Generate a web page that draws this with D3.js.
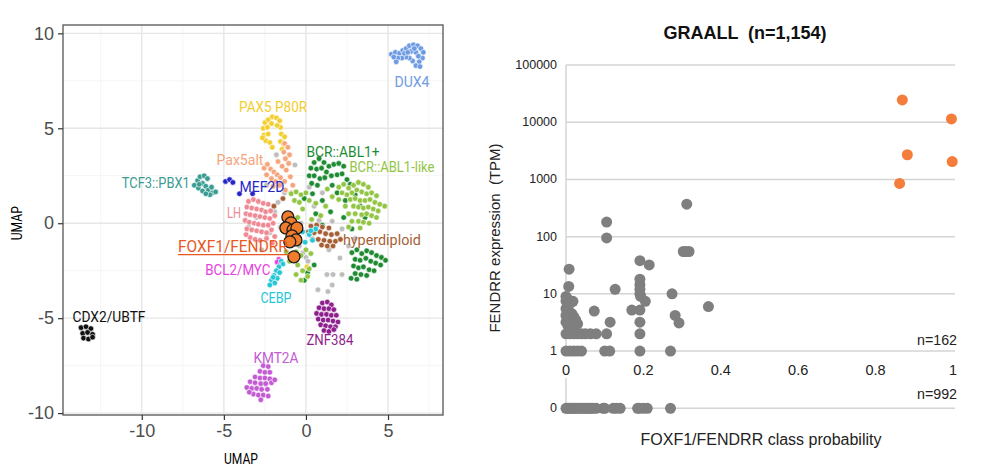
<!DOCTYPE html>
<html>
<head>
<meta charset="utf-8">
<script src="https://d3js.org/d3.v7.min.js"></script>
<style>
	body { margin: 0; background: white; }
	text { font-family: "Liberation Sans", Arial, sans-serif; }
</style>
</head>
<body>
<script>
// ---- left panel: UMAP, one array of [umap1, umap2] per subtype ----
var dux4 = [[5.2,8.9],[5.45,9.0],[5.7,8.95],[5.9,9.1],[6.1,9.2],[6.3,9.35],[6.55,9.4],[6.8,9.35],[7.0,9.2],[7.15,9.0],
	[7.1,8.7],[6.9,8.5],[6.7,8.3],[6.95,8.25],[6.5,8.55],[6.3,8.7],[6.1,8.75],[5.85,8.7],[5.6,8.7],[5.5,8.5],
	[6.0,8.95],[6.4,9.05],[6.7,9.0],[6.85,8.8],[5.35,8.75],[6.6,9.2],[6.2,9.0]]
var pax5p80r = [[-2.5,5.3],[-2.3,5.45],[-2.05,5.6],[-1.8,5.55],[-1.6,5.4],[-2.6,5.0],[-2.35,5.05],[-1.55,5.05],[-1.75,5.15],
	[-2.55,4.65],[-2.3,4.7],[-1.5,4.7],[-1.3,4.55],[-2.45,4.35],[-2.2,4.25],[-1.55,4.3],[-1.35,4.15],[-2.05,4.0],
	[-1.45,3.9],[-2.1,5.25],[-2.65,4.5],[0.06,-2.3]]
var pax5alt = [[-1.3,4.2],[-1.1,4.0],[-1.35,3.75],[-1.0,3.6],[-1.25,3.4],[-1.05,3.15],[-1.45,3.0],[-1.2,2.8],[-2.55,2.9],
	[-2.35,3.1],[-2.15,2.85],[-1.95,2.7],[-1.75,2.55],[-1.55,2.4],[-2.4,2.55],[-2.1,2.35],[-1.85,2.2],[-1.6,2.0],
	[-1.3,2.2],[-0.95,2.45],[-0.8,2.0],[-2.0,1.95],[-1.25,1.75],[-0.9,1.6],[-1.7,3.25]]
var tcf3pbx1 = [[-6.8,2.0],[-6.6,2.25],[-6.45,2.45],[-6.2,2.5],[-6.0,2.35],[-6.3,2.1],[-6.1,1.95],[-6.55,1.85],
	[-6.3,1.7],[-5.95,1.75],[-5.7,1.6],[-5.5,1.65],[-5.85,1.5],[-6.1,1.55],[-6.5,2.05],[-5.75,1.9]]
var mef2d = [[-4.9,2.2],[-4.65,2.3],[-4.45,2.15],[-4.05,1.55],[-3.25,1.55]]
var lh = [[-3.5,1.15],[-3.2,1.25],[-2.9,1.15],[-2.6,1.05],[-2.3,1.0],[-3.6,0.85],[-3.3,0.8],[-3.0,0.75],[-2.7,0.7],
	[-2.45,0.6],[-2.15,0.65],[-3.65,0.5],[-3.4,0.45],[-3.1,0.4],[-2.8,0.35],[-2.5,0.3],[-2.2,0.25],[-1.9,0.4],
	[-3.7,0.15],[-3.45,0.05],[-3.15,0.0],[-2.9,-0.05],[-2.6,-0.1],[-2.3,-0.1],[-2.0,0.0],[-3.6,-0.3],[-3.3,-0.35],
	[-3.0,-0.4],[-2.7,-0.45],[-2.4,-0.5],[-2.1,-0.35],[-3.4,-0.75],[-3.1,-0.85],[-2.8,-0.9],[-2.4,-0.8],[-3.65,-0.6],
	[-1.9,-0.7],[-2.05,-1.05]]
var bcrAbl1 = [[0.5,3.2],[0.8,3.4],[1.1,3.2],[1.4,3.0],[0.3,2.9],[0.65,2.85],[0.95,2.9],[1.25,2.7],[1.7,3.1],[2.0,3.15],
	[2.3,3.0],[0.2,2.5],[0.5,2.5],[0.85,2.35],[1.15,2.4],[1.55,2.5],[1.9,2.55],[2.2,2.6],[0.35,2.1],[0.7,2.0],
	[1.6,2.0],[2.5,2.3],[2.7,2.05],[-0.1,1.3],[0.4,1.55],[1.0,1.2],[1.9,1.6],[2.4,1.2],[3.0,1.5],[1.5,0.6],[2.3,0.3],
	[3.3,0.9],[0.6,0.5],[2.8,-0.3],[1.0,-0.1],[3.6,0.3],[2.8,-1.55],[3.1,-1.4],[3.4,-1.6],[3.7,-1.45],[4.0,-1.55],
	[4.3,-1.7],[4.6,-1.8],[4.85,-1.95],[3.0,-1.9],[3.3,-1.95],[3.65,-1.85],[3.95,-2.0],[4.25,-2.1],[4.55,-2.2],
	[2.9,-2.25],[3.2,-2.35],[3.5,-2.3],[3.85,-2.45],[4.15,-2.5],[3.0,-2.65],[3.35,-2.7],[3.7,-2.75],[2.75,-2.9],
	[3.1,-2.95],[0.1,-2.6],[-0.1,-3.0],[0.5,-2.2]]
var bcrAbl1Like = [[2.0,1.9],[2.3,2.05],[2.6,1.85],[2.9,2.0],[3.2,2.15],[3.5,2.05],[3.8,1.9],[2.2,1.6],[2.5,1.5],[2.8,1.6],
	[3.1,1.75],[3.4,1.65],[3.7,1.55],[4.0,1.6],[4.3,1.45],[2.0,1.25],[2.7,1.25],[3.0,1.3],[3.3,1.2],[3.6,1.2],[3.9,1.25],
	[4.2,1.1],[4.5,1.0],[4.8,0.9],[2.4,0.9],[2.9,0.9],[3.2,0.85],[3.5,0.8],[3.8,0.85],[4.1,0.75],[4.4,0.65],[2.6,0.5],
	[3.0,0.5],[3.4,0.45],[3.7,0.5],[4.0,0.4],[4.3,0.3],[2.8,0.1],[3.2,0.1],[3.5,0.05],[3.85,0.0],[3.3,-0.25],[2.6,-0.2],
	[-0.9,1.55],[-0.6,1.65],[-0.3,1.5],[0.0,1.6],[-0.7,1.2],[-0.4,1.1],[0.2,1.2],[0.6,1.05],[1.2,0.9],[-0.2,0.75],
	[0.35,0.2],[0.9,0.4],[1.6,1.4],[1.3,1.8],[-0.5,0.3],[-0.6,-1.5],[-0.3,-1.7],[0.0,-1.4],[0.3,-1.6],[-0.5,-2.2],
	[-0.2,-2.5],[0.2,-2.4],[-0.6,-2.7],[-0.3,-3.0],[0.1,-2.8],[-1.2,-1.5],[-1.0,-2.0]]
var hyperdiploid = [[0.3,-0.15],[0.65,-0.1],[1.0,-0.2],[1.4,-0.25],[0.15,-0.45],[0.5,-0.5],[0.85,-0.45],[1.2,-0.55],
	[1.55,-0.6],[1.9,-0.55],[0.4,-0.85],[0.75,-0.85],[1.1,-0.9],[1.45,-0.95],[1.8,-0.95],[2.1,-0.85],[0.95,-1.15],
	[1.3,-1.2],[1.65,-1.2],[-1.95,0.9],[-1.4,1.3]]
var bcl2myc = [[-1.65,-1.9],[-1.75,-2.05],[-1.55,-2.15]]
var cebp = [[-1.5,-2.0],[-1.4,-2.15],[-1.65,-2.3],[-1.8,-2.5],[-1.6,-2.6],[-1.95,-2.75],[-1.75,-2.9],[-2.1,-3.0],
	[-1.9,-3.15],[-2.2,-3.25],[-2.0,-2.85],[-0.2,-0.45],[0.2,-0.6],[0.4,-0.9],[-0.05,-1.0],[0.6,-0.3],[0.3,-0.4]]
var cdx2ubtf = [[-13.7,-5.5],[-13.4,-5.45],[-13.1,-5.55],[-13.6,-5.8],[-13.3,-5.75],[-13.0,-5.85],[-13.55,-6.05],
	[-13.25,-6.1],[-13.0,-6.0]]
var znf384 = [[1.0,-4.2],[1.3,-4.15],[1.55,-4.3],[0.8,-4.45],[1.1,-4.5],[1.4,-4.5],[1.7,-4.55],[0.65,-4.75],[0.95,-4.8],
	[1.25,-4.8],[1.55,-4.85],[1.85,-4.85],[0.75,-5.05],[1.05,-5.1],[1.35,-5.1],[1.65,-5.15],[1.95,-5.2],[0.9,-5.35],
	[1.2,-5.4],[1.5,-5.45],[1.8,-5.45],[1.1,-5.65],[1.4,-5.7],[1.7,-5.6]]
var kmt2a = [[-2.6,-7.5],[-2.3,-7.55],[-2.8,-7.8],[-2.5,-7.85],[-2.2,-7.85],[-3.1,-8.1],[-2.8,-8.15],[-2.5,-8.15],
	[-2.2,-8.2],[-3.4,-8.35],[-3.1,-8.4],[-2.75,-8.45],[-2.45,-8.45],[-2.1,-8.4],[-1.9,-8.25],[-3.6,-8.65],[-3.3,-8.7],
	[-3.0,-8.7],[-2.7,-8.75],[-2.35,-8.75],[-3.2,-9.0],[-2.9,-9.05],[-2.6,-9.05],[-2.3,-9.1],[-2.75,-9.3],[-3.45,-8.9]]
var unclassified = [[-3.0,0.3],[-2.2,-0.5],[-1.9,0.6],[-1.55,-0.2],[-1.3,1.6],[-2.7,-1.4],[-3.5,-0.2],[0.5,0.9],[-0.3,0.0],
	[0.8,0.15],[1.6,0.1],[2.2,-0.3],[0.0,-1.8],[-0.4,-1.2],[1.4,-1.4],[2.6,-1.2],[-0.67,3.07],[-1.7,1.1],[0.2,1.9],
	[1.0,1.6],[3.0,-0.8],[2.07,-1.83],[1.28,-2.7],[1.65,-2.7],[2.2,-2.7],[1.6,-3.25],[0.73,-3.5],[1.34,-3.6],
	[0.12,-2.0],[-0.18,-1.56],[-2.4,2.0],[-1.8,3.6]]
var foxf1 = [[-1.1,0.33],[-0.91,0.02],[-1.22,-0.25],[-0.79,-0.35],[-0.55,-0.25],[-0.85,-0.67],[-0.61,-0.88],
	[-0.98,-0.98],[-0.73,-1.77]]

var umapTicks = [-10, -5, 0, 5, 10]

// subtype label anchors, in UMAP units
var clusters = [
	{name: 'DUX4', color: '#6F9BE3', pts: dux4, lx: 6.46, ly: 7.44, w: 35},
	{name: 'PAX5 P80R', color: '#F2CE2E', pts: pax5p80r, lx: -2.0, ly: 6.12, w: 68},
	{name: 'Pax5alt', color: '#F4A57C', pts: pax5alt, lx: -4.02, ly: 3.33, w: 47},
	{name: 'TCF3::PBX1', color: '#3A9C92', pts: tcf3pbx1, lx: -9.15, ly: 2.12, w: 68},
	{name: 'MEF2D', color: '#2626C9', pts: mef2d, lx: -2.68, ly: 1.91, w: 45},
	{name: 'LH', color: '#EF8A94', pts: lh, lx: -4.39, ly: 0.54, w: 14},
	{name: 'BCR::ABL1+', color: '#1E8B33', pts: bcrAbl1, lx: 2.26, ly: 3.75, w: 73},
	{name: 'BCR::ABL1-like', color: '#93C545', pts: bcrAbl1Like, lx: 5.24, ly: 2.96, w: 85},
	{name: 'hyperdiploid', color: '#A65F35', pts: hyperdiploid, lx: 4.63, ly: -0.88, w: 78},
	{name: 'BCL2/MYC', color: '#E83FE0', pts: bcl2myc, lx: -4.15, ly: -2.46, w: 65},
	{name: 'CEBP', color: '#25C7D6', pts: cebp, lx: -1.83, ly: -3.93, w: 31},
	{name: 'CDX2/UBTF', color: '#111111', pts: cdx2ubtf, lx: -12.0, ly: -4.93, w: 73},
	{name: 'ZNF384', color: '#8E1F8E', pts: znf384, lx: 1.46, ly: -6.13, w: 47},
	{name: 'KMT2A', color: '#C35BD3', pts: kmt2a, lx: -1.83, ly: -7.08, w: 45}
]

// ---- right panel: FENDRR TPM vs class probability ----
var probTicks = [0, 0.2, 0.4, 0.6, 0.8, 1]
var tpmTicks = [0, 1, 10, 100, 1000, 10000, 100000]
var fendrrHigh = [[0.869,24500],[0.996,11400],[0.882,2700],[0.998,2050],[0.862,850]]
var fendrrLow = [[0.105,180],[0.312,370],[0.105,95],[0.303,55],[0.31,55],[0.318,55],[0.008,27],[0.007,13.5],
	[0.127,12],[0.191,38],[0.215,32],[0.191,18],[0.191,14.5],[0.191,12],[0.191,10],[0.193,9],[0.205,7.4],[0.17,5.2],
	[0.191,5.2],[0.191,3.2],[0.191,2],[0.191,1],[0.274,10],[0.282,4.2],[0.292,3.1],[0.368,6],[0.27,1],[0.073,5],
	[0.063,2],[0.078,2],[0.105,2],[0.114,3.2],[0.1,1],[0.113,1],[0.0,9],[0.005,8],[0.0,7.5],[0.012,7],[0.018,7.4],
	[0.005,6.3],[0.0,5.5],[0.008,5],[0.015,4.5],[0.0,4.2],[0.02,4],[0.01,3.6],[0.025,3.5],[0.0,3.2],[0.015,3.1],
	[0.03,3.0],[0.005,2.8],[0.022,2.7],[0.0,2],[0.01,2],[0.02,2],[0.03,2],[0.04,2],[0.05,2],
	[0.0,1],[0.01,1],[0.02,1],[0.03,1],[0.04,1]]
var fendrrZero = [0, 0.004, 0.008, 0.012, 0.016, 0.02, 0.025, 0.03, 0.035, 0.04, 0.045, 0.05, 0.055, 0.06,
	0.065, 0.07, 0.078, 0.096, 0.1, 0.122, 0.13, 0.14, 0.185, 0.19, 0.2, 0.21, 0.27]
var groupCounts = ['n=162', 'n=992']

var svg = d3.select('body').append('svg')
	.attr('width', 986)
	.attr('height', 474)

createUmap()
createScatter()

function createUmap() {
	var x = d3.scaleLinear().domain([-14.8, 8.35]).range([63, 443])
	var y = d3.scaleLinear().domain([-10.1, 10.44]).range([415, 25])
	var g = svg.append('g')

	// minor + major grid (theme_bw)
	var minor = [-12.5, -7.5, -2.5, 2.5, 7.5]
	g.selectAll('.vminor').data(minor).enter().append('line')
		.attr('x1', d => x(d)).attr('x2', d => x(d)).attr('y1', 25).attr('y2', 415)
		.attr('stroke', '#f2f2f2').attr('stroke-width', 0.8)
	g.selectAll('.hminor').data(minor.filter(d => d > -10)).enter().append('line')
		.attr('y1', d => y(d)).attr('y2', d => y(d)).attr('x1', 63).attr('x2', 443)
		.attr('stroke', '#f2f2f2').attr('stroke-width', 0.8)
	g.selectAll('.vmajor').data(umapTicks.slice(0, 4)).enter().append('line')
		.attr('x1', d => x(d)).attr('x2', d => x(d)).attr('y1', 25).attr('y2', 415)
		.attr('stroke', '#e6e6e6').attr('stroke-width', 1.4)
	g.selectAll('.hmajor').data(umapTicks).enter().append('line')
		.attr('y1', d => y(d)).attr('y2', d => y(d)).attr('x1', 63).attr('x2', 443)
		.attr('stroke', '#e6e6e6').attr('stroke-width', 1.4)

	g.selectAll('.other').data(unclassified).enter().append('circle')
		.attr('cx', d => x(d[0])).attr('cy', d => y(d[1])).attr('r', 2.8)
		.attr('fill', '#bdbdbd').attr('stroke', 'white').attr('stroke-width', 0.6)

	clusters.forEach(function(c) {
		g.append('g').selectAll('circle').data(c.pts).enter().append('circle')
			.attr('cx', d => x(d[0])).attr('cy', d => y(d[1])).attr('r', 2.8)
			.attr('fill', c.color).attr('stroke', 'white').attr('stroke-width', 0.6)
	})

	g.selectAll('.foxf1').data(foxf1).enter().append('circle')
		.attr('cx', d => x(d[0])).attr('cy', d => y(d[1])).attr('r', 6)
		.attr('fill', '#F07C2C').attr('stroke', '#1a1a1a').attr('stroke-width', 1.3)

	clusters.forEach(function(c) {
		g.append('text')
			.attr('x', x(c.lx)).attr('y', y(c.ly))
			.attr('text-anchor', 'middle').attr('dominant-baseline', 'central')
			.attr('textLength', c.w).attr('lengthAdjust', 'spacingAndGlyphs')
			.style('font-family', 'Roboto, sans-serif').style('font-size', '15.5px')
			.attr('fill', c.color)
			.text(c.name)
	})

	// highlighted subtype, underlined
	g.append('text')
		.attr('x', x(-4.45)).attr('y', y(-1.19))
		.attr('text-anchor', 'middle').attr('dominant-baseline', 'central')
		.attr('textLength', 110).attr('lengthAdjust', 'spacingAndGlyphs')
		.style('font-family', 'Roboto, sans-serif').style('font-size', '17px')
		.attr('fill', '#E9581F')
		.text('FOXF1/FENDRR')
	g.append('line')
		.attr('x1', x(-7.8)).attr('x2', x(-0.95)).attr('y1', y(-1.65)).attr('y2', y(-1.65))
		.attr('stroke', '#E9581F').attr('stroke-width', 1.3)

	g.append('rect')
		.attr('x', 63).attr('y', 25).attr('width', 380).attr('height', 390)
		.attr('fill', 'none').attr('stroke', '#555').attr('stroke-width', 1.3)

	var xAxis = g.append('g')
		.attr('transform', 'translate(0,415)')
		.call(d3.axisBottom(x).tickValues(umapTicks.slice(0, 4)).tickSize(5).tickPadding(4).tickFormat(d => String(d)))
	var yAxis = g.append('g')
		.attr('transform', 'translate(63,0)')
		.call(d3.axisLeft(y).tickValues(umapTicks).tickSize(5).tickPadding(4).tickFormat(d => String(d)))
	;[xAxis, yAxis].forEach(function(a) {
		a.select('.domain').remove()
		a.selectAll('line').attr('stroke', '#333').attr('stroke-width', 1.2)
		a.selectAll('text').attr('fill', '#4d4d4d').style('font-size', '18px')
	})

	g.append('text')
		.attr('x', 241).attr('y', 459)
		.attr('text-anchor', 'middle').attr('dominant-baseline', 'central')
		.style('font-family', 'Roboto, sans-serif').style('font-size', '14px')
		.attr('textLength', 34).attr('lengthAdjust', 'spacingAndGlyphs')
		.text('UMAP')
	g.append('text')
		.attr('transform', 'translate(17,' + y(0) + ') rotate(-90)')
		.attr('text-anchor', 'middle').attr('dominant-baseline', 'central')
		.style('font-family', 'Roboto, sans-serif').style('font-size', '14px')
		.attr('textLength', 34).attr('lengthAdjust', 'spacingAndGlyphs')
		.text('UMAP')
}

function createScatter() {
	var x = d3.scaleLinear().domain([0, 1]).range([566, 953])
	var yLog = d3.scaleLog().domain([0.1, 100000]).range([408.3, 65])
	var y = v => yLog(v === 0 ? 0.1 : v) // zero gets its own row below 1

	var g = svg.append('g')

	g.selectAll('.grid').data(tpmTicks).enter().append('line')
		.attr('x1', x(0)).attr('x2', x(1) + 2)
		.attr('y1', d => y(d)).attr('y2', d => y(d))
		.attr('stroke', '#d4d4d4').attr('stroke-width', 1.5)

	g.append('line')
		.attr('x1', x(0)).attr('x2', x(0)).attr('y1', y(100000)).attr('y2', y(1))
		.attr('stroke', '#d4d4d4').attr('stroke-width', 1.5)
	g.append('line')
		.attr('x1', x(0)).attr('x2', x(0)).attr('y1', y(1) + 27).attr('y2', y(0))
		.attr('stroke', '#d4d4d4').attr('stroke-width', 1.5)

	g.selectAll('.ylab').data(tpmTicks).enter().append('text')
		.attr('x', 557).attr('y', d => y(d))
		.attr('text-anchor', 'end').attr('dominant-baseline', 'central')
		.style('font-size', '12.5px').attr('fill', '#222')
		.text(d => String(d))

	g.selectAll('.xlab').data(probTicks).enter().append('text')
		.attr('x', d => x(d)).attr('y', y(1) + 19)
		.attr('text-anchor', 'middle').attr('dominant-baseline', 'central')
		.style('font-size', '14.5px').attr('fill', '#222')
		.text(d => String(d))

	g.selectAll('.zero').data(fendrrZero).enter().append('circle')
		.attr('cx', d => x(d)).attr('cy', y(0)).attr('r', 5.5)
		.attr('fill', '#7f7f7f')
	g.selectAll('.low').data(fendrrLow).enter().append('circle')
		.attr('cx', d => x(d[0])).attr('cy', d => y(d[1])).attr('r', 5.5)
		.attr('fill', '#7f7f7f')
	g.selectAll('.high').data(fendrrHigh).enter().append('circle')
		.attr('cx', d => x(d[0])).attr('cy', d => y(d[1])).attr('r', 5.5)
		.attr('fill', '#F47D3C')

	g.selectAll('.count').data(groupCounts).enter().append('text')
		.attr('x', 957).attr('y', (d, i) => i == 0 ? y(1) - 6 : y(0) - 9)
		.attr('text-anchor', 'end').style('font-size', '15px').attr('fill', '#222')
		.attr('textLength', 40).attr('lengthAdjust', 'spacingAndGlyphs')
		.text(d => d)

	g.append('text')
		.attr('x', 745).attr('y', 33)
		.attr('text-anchor', 'middle').attr('dominant-baseline', 'central')
		.style('font-size', '18px').style('font-weight', 'bold').style('white-space', 'pre')
		.attr('fill', '#111')
		.text('GRAALL  (n=1,154)')

	g.append('text')
		.attr('x', 761).attr('y', 439)
		.attr('text-anchor', 'middle').attr('dominant-baseline', 'central')
		.style('font-size', '16px').attr('fill', '#222')
		.text('FOXF1/FENDRR class probability')

	g.append('text')
		.attr('transform', 'translate(494,238) rotate(-90)')
		.attr('text-anchor', 'middle').attr('dominant-baseline', 'central')
		.style('font-size', '15px').style('white-space', 'pre').attr('fill', '#222')
		.text('FENDRR expression  (TPM)')
}
</script>
</body>
</html>
